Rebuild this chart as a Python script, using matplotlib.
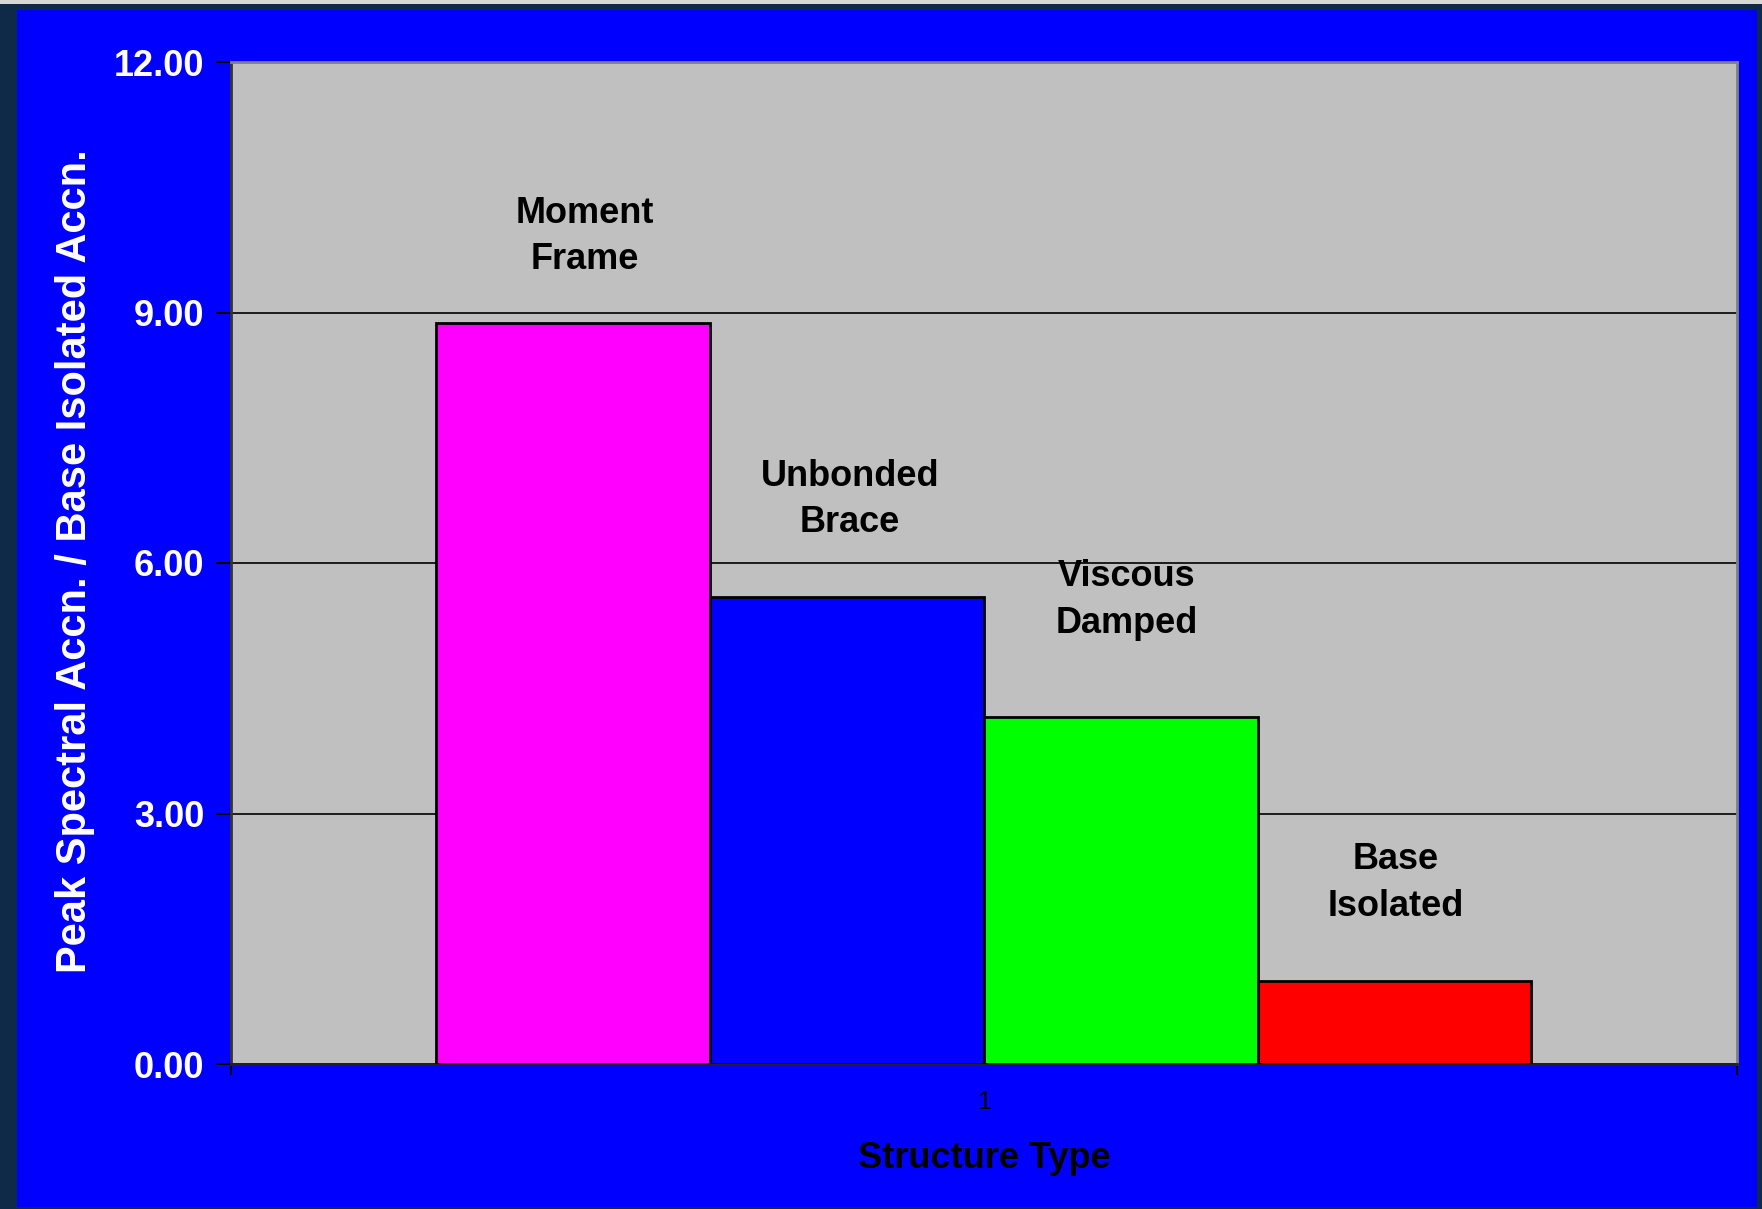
import numpy as np
import matplotlib.pyplot as plt
from matplotlib.patches import Rectangle

plt.rcParams['font.family'] = ['Liberation Sans', 'DejaVu Sans']

# data
structures = ['Moment\nFrame', 'Unbonded\nBrace', 'Viscous\nDamped', 'Base\nIsolated']
ratios = [8.88, 5.59, 4.15, 0.99]
bar_colors = ['#FF00FF', '#0000FF', '#00FF00', '#FF0000']
label_y = [9.91, 6.76, 5.56, 2.17]
label_dx = [0.008, 0.002, 0.004, 0.001]
category = [1]

fig = plt.figure(figsize=(17.62, 12.09), dpi=100, facecolor='#0f2a48')
# blue slide panel
fig.patches.append(Rectangle((17/1762, 2/1209), (1757-17)/1762, (1209-12)/1209,
                             transform=fig.transFigure, facecolor='#0000FF',
                             edgecolor='none', zorder=-10))
fig.patches.append(Rectangle((0, 1-4/1209), 1, 4/1209, transform=fig.transFigure,
                             facecolor='#d8d8d8', edgecolor='none', zorder=-10))

ax = fig.add_axes([231/1762, 145/1209, 1505.7/1762, 1002/1209])
ax.set_facecolor('#C0C0C0')

n = len(ratios)
w = 1 / (n + 1.5)
offsets = (np.arange(n) - (n - 1) / 2) * w
for i in range(n):
    ax.bar(category[0] + offsets[i], ratios[i], width=w, color=bar_colors[i],
           edgecolor='black', linewidth=2, zorder=3)
    ax.text(category[0] + offsets[i] + label_dx[i], label_y[i], structures[i],
            ha='center', va='center', fontsize=26, fontweight='bold',
            color='black', linespacing=1.43, zorder=4)

ax.set_xlim(0.5, 1.5)
ax.set_ylim(0, 12)
ax.set_yticks([0, 3, 6, 9, 12])
ax.set_yticklabels([f'{v:.2f}' for v in [0, 3, 6, 9, 12]])
ax.yaxis.grid(True, color='black', linewidth=1.2, zorder=1)
ax.set_axisbelow(True)

ax.set_xticks(category)
ax.set_xticklabels(['1'])
ax.set_xticks([0.5, 1.5], minor=True)
ax.tick_params(axis='x', which='major', length=0, labelsize=18, labelcolor='black', pad=19)
ax.tick_params(axis='x', which='minor', length=8, width=1.5, color='black')
ax.tick_params(axis='y', length=11, width=1.5, color='black', labelsize=26,
               labelcolor='white', pad=8)
for lab in ax.get_yticklabels():
    lab.set_fontweight('bold')

for s in ['top', 'right']:
    ax.spines[s].set_color('#808080')
    ax.spines[s].set_linewidth(2)
ax.spines['left'].set_color('#333333')
ax.spines['left'].set_linewidth(2)
ax.spines['bottom'].set_color('#222222')
ax.spines['bottom'].set_linewidth(2)

ax.set_ylabel('Peak Spectral Accn. / Base Isolated Accn.', fontsize=30,
              fontweight='bold', color='white')
ax.yaxis.set_label_coords(-0.0905, 0.502)
ax.set_xlabel('Structure Type', fontsize=26, fontweight='bold', color='black')
ax.xaxis.set_label_coords(0.5, -0.0765)

fig.savefig('out.png', dpi=100, facecolor=fig.get_facecolor())
